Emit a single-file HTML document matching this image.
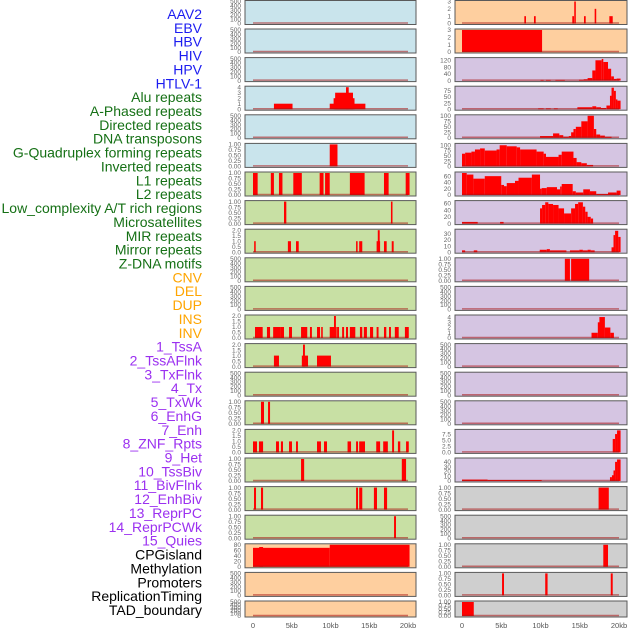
<!DOCTYPE html>
<html><head><meta charset="utf-8"><style>
html,body{margin:0;padding:0;background:#fff;}
svg{display:block;font-family:"Liberation Sans",sans-serif;}
</style></head><body>
<svg id="chart" width="630" height="630" viewBox="0 0 630 630"></svg>
<script>
// ---------- labels ----------
const trackLabels = ["AAV2","EBV","HBV","HIV","HPV","HTLV-1","Alu repeats","A-Phased repeats","Directed repeats","DNA transposons","G-Quadruplex forming repeats","Inverted repeats","L1 repeats","L2 repeats","Low_complexity A/T rich regions","Microsatellites","MIR repeats","Mirror repeats","Z-DNA motifs","CNV","DEL","DUP","INS","INV","1_TssA","2_TssAFlnk","3_TxFlnk","4_Tx","5_TxWk","6_EnhG","7_Enh","8_ZNF_Rpts","9_Het","10_TssBiv","11_BivFlnk","12_EnhBiv","13_ReprPC","14_ReprPCWk","15_Quies","CPGisland","Methylation","Promoters","ReplicationTiming","TAD_boundary"];
const labelGroups = ["v","v","v","v","v","v","r","r","r","r","r","r","r","r","r","r","r","r","r","s","s","s","s","s","c","c","c","c","c","c","c","c","c","c","c","c","c","c","c","o","o","o","o","o"];
const xTickValues = [0,5,10,15,20];
const xTickLabels = ["0","5kb","10kb","15kb","20kb"];
// ---------- tick sets ----------
const ticks500 = ["0","100","200","300","400","500"];
const ticks1 = ["0.00","0.25","0.50","0.75","1.00"];
const ticks2 = ["0.0","0.5","1.0","1.5","2.0"];
const ticks4 = ["0","1","2","3","4"];
const ticks3 = ["0","1","2","3"];
const ticks80 = ["0","20","40","60","80"];
const ticks120 = ["0","40","80","120"];
const ticks75 = ["0","25","50","75"];
const ticks100 = ["0","25","50","75","100"];
const ticks60 = ["0","20","40","60"];
const ticks30 = ["0","10","20","30"];
const ticks7 = ["0.0","2.5","5.0","7.5"];
const ticks40 = ["0","10","20","30","40"];
// ---------- series data: [startKb, endKb, value] ----------
const empty = [];
const hivL = [[2.7,5.1,1],[9.9,14.5,1],[10.4,13.1,2],[10.6,12.9,3],[12.0,12.35,4]];
const htlvL = [[9.9,10.9,1]];
const aluL = [[0,0.6,1],[2.3,2.7,1],[3.35,3.8,1],[5.2,6.3,1],[8.6,9.1,1],[9.3,9.9,1],[12.5,14.4,1],[16.9,17.5,1],[19.7,20.2,1]];
const aphL = [[4.0,4.3,1],[17.8,18.0,1]];
const dirL = [[0.15,0.35,1],[4.5,4.9,1],[5.55,5.9,1],[13.3,13.5,1],[13.7,14.1,1],[15.95,16.4,1],[16.1,16.35,2],[16.9,17.25,1],[17.9,18.15,1]];
const invL = [[0.26,1.25,1],[1.8,2.2,1],[2.6,3.6,1],[3.6,4.0,1],[4.65,5.03,1],[6.2,7.0,1],[7.35,7.6,1],[8.26,8.65,1],[8.8,9.0,1],[9.9,10.8,1],[10.45,10.7,2],[10.85,11.1,1],[11.5,11.75,1],[12.0,12.26,1],[12.5,13.2,1],[13.8,14.1,1],[14.3,14.7,1],[15.1,15.5,1],[15.95,16.2,1],[16.9,17.2,1],[17.55,17.8,1],[18.3,18.8,1],[19.6,20.1,1]];
const l1L = [[2.7,3.35,1],[6.3,7.1,1],[6.45,6.7,2],[8.26,10.06,1]];
const lowL = [[1.03,1.42,1],[1.94,2.2,1]];
const microL = [[0,0.52,1],[0.77,1.3,1],[2.97,3.35,1],[3.6,3.87,1],[4.65,5.03,1],[5.55,5.8,1],[8.26,8.77,1],[9.16,9.55,1],[12.2,12.65,1],[13.3,13.55,1],[13.7,14.45,1],[15.9,16.4,1],[16.8,17.4,1],[17.95,18.2,2],[18.7,19.0,1],[19.75,20.1,1]];
const mirL = [[6.2,6.6,1],[19.2,19.75,1]];
const mirrorL = [[0.13,0.39,1],[1.03,1.3,1],[13.3,13.55,1],[13.7,14.1,1],[15.6,16.0,1],[16.9,17.3,1]];
const zdnaL = [[18.2,18.45,1]];
const cnvL = [[0,9.9,69],[0.8,1.3,72],[9.9,20.2,80]];
const insR = [[7.94,8.15,1],[9.17,9.39,1],[14.05,14.27,1],[14.3,14.5,3],[15.54,15.76,1],[16.9,17.1,2],[18.77,19.2,1]];
const invR = [[0,10.2,3]];
const tssaR = [[10.0,10.4,4],[10.7,11.3,4],[11.9,13.1,4],[14.9,15.5,5],[15.5,16.0,8],[16.0,16.6,15],[16.6,17.0,60],[17.0,17.8,120],[17.8,18.0,128],[18.0,18.6,110],[18.6,19.0,70],[19.0,19.35,25],[19.35,19.7,10],[19.7,20.2,12]];
const tssaflR = [[9.7,10.4,3],[10.7,11.3,3],[11.7,12.2,3],[14.7,16.6,8],[16.6,17.1,12],[17.1,17.7,8],[17.7,18.35,5],[18.4,18.85,15],[18.85,19.05,55],[19.05,19.35,88],[19.35,19.6,75],[19.6,19.8,40],[19.8,20.2,35]];
const txflR = [[9.94,11.6,8],[11.6,12.4,20],[12.4,12.9,12],[12.9,13.6,5],[13.6,13.9,8],[13.9,14.2,25],[14.2,14.5,40],[14.5,15.2,50],[15.2,16.0,75],[16.0,16.8,100],[16.8,17.1,40],[17.1,17.6,15],[17.6,18.2,10],[18.2,19.05,5]];
const txR = [[0,0.4,60],[0.4,1.2,65],[1.2,1.65,70],[1.65,2.3,80],[2.3,2.9,85],[2.9,4.4,75],[4.4,4.8,80],[4.8,5.7,100],[5.7,6.97,95],[6.97,7.4,90],[7.4,9.5,80],[9.5,10.4,70],[10.4,10.7,60],[10.7,12.3,45],[12.3,12.7,55],[12.7,14.2,70],[14.2,14.6,40],[14.6,15.2,20],[15.2,15.9,15],[15.9,16.7,7]];
const txwkR = [[0,0.6,70],[0.6,1.45,65],[1.45,2.9,52],[2.9,5.0,60],[5.0,5.35,32],[5.35,5.7,28],[5.7,6.75,38],[6.75,7.2,45],[7.2,8.9,55],[8.9,9.94,65],[9.94,10.15,20],[10.15,10.8,22],[10.8,12.1,25],[12.1,12.5,18],[12.5,12.7,27],[12.7,14.1,35],[14.1,14.5,12],[14.5,15.45,8],[15.45,16.3,18],[16.3,17.1,12],[17.1,18.6,3],[18.6,19.7,8],[19.7,20.2,14]];
const enhgR = [[0,2.0,5],[4.85,5.3,5],[9.94,10.2,45],[10.2,10.6,55],[10.6,11.0,63],[11.0,11.6,58],[11.6,12.3,55],[12.3,13.0,45],[13.0,13.9,30],[13.9,14.4,45],[14.4,14.8,58],[14.8,15.4,63],[15.4,15.7,50],[15.7,16.0,35],[16.0,16.4,20],[16.4,16.7,15]];
const enhR = [[0,0.4,3],[1.5,1.95,3],[9.9,10.8,4],[10.8,11.2,5],[11.2,13.3,3],[13.75,14.95,3],[14.95,15.4,4],[15.4,16.0,3],[16.0,16.4,4],[16.4,16.9,3],[19.05,19.3,8],[19.3,19.5,28],[19.5,19.9,35],[19.9,20.2,25]];
const znfR = [[13.1,13.75,1],[13.9,16.2,1]];
const tssbivR = [[16.5,17.3,1],[17.3,17.55,3],[17.5,18.2,4],[18.2,18.9,2],[18.9,19.35,1]];
const reprpcR = [[19.2,19.5,5.5],[19.5,19.75,7.5],[19.75,20.2,9]];
const reprpcwkR = [[0,3.26,3],[3.26,10.15,2],[18.85,19.1,8],[19.1,19.3,12],[19.3,19.5,22],[19.5,19.75,40],[19.75,20.2,45]];
const cpgR = [[17.4,18.7,1]];
const promR = [[18.0,18.6,1]];
const repR = [[5.1,5.35,1],[10.6,10.9,1],[18.95,19.2,1]];
const tadR = [[0,1.5,1]];

const leftPanels = [
 [empty,500,ticks500],[empty,500,ticks500],[empty,500,ticks500],[hivL,4,ticks4],[empty,500,ticks500],[htlvL,1,ticks1],
 [aluL,1,ticks1],[aphL,1,ticks1],[dirL,2,ticks2],[empty,500,ticks500],[empty,500,ticks500],[invL,2,ticks2],[l1L,2,ticks2],
 [empty,500,ticks500],[lowL,1,ticks1],[microL,2,ticks2],[mirL,1,ticks1],[mirrorL,1,ticks1],[zdnaL,1,ticks1],
 [cnvL,80,ticks80],[empty,500,ticks500],[empty,500,ticks500]];
const rightPanels = [
 [insR,3,ticks3],[invR,3,ticks3],[tssaR,130,ticks120],[tssaflR,90,ticks75],[txflR,100,ticks100],[txR,104,ticks100],[txwkR,70,ticks60],
 [enhgR,65,ticks60],[enhR,36,ticks30],[znfR,1,ticks1],[empty,500,ticks500],[tssbivR,4.2,ticks4],[empty,500,ticks500],[empty,500,ticks500],
 [empty,500,ticks500],[reprpcR,9,ticks7],[reprpcwkR,46,ticks40],[cpgR,1,ticks1],[empty,500,ticks500],[promR,1,ticks1],[repR,1,ticks1],[tadR,1,ticks1]];
const leftBg = ["b","b","b","b","b","b","g","g","g","g","g","g","g","g","g","g","g","g","g","o","o","o"];
const rightBg = ["o","o","p","p","p","p","p","p","p","p","p","p","p","p","p","p","p","y","y","y","y","y"];

// ---------- rendering ----------
const NS = "http://www.w3.org/2000/svg";
const svg = document.getElementById("chart");
const bgColors = {b:"#c9e4ec",g:"#c8e0a4",o:"#fecf9f",p:"#d5c5e2",y:"#cfcfcf"};
const labelColors = {v:"#1c1cf0",r:"#157015",s:"#ffa500",c:"#9b30f0",o:"#000000"};
function mk(tag, attrs, parent){const e=document.createElementNS(NS,tag);for(const k in attrs)e.setAttribute(k,attrs[k]);(parent||svg).appendChild(e);return e;}

trackLabels.forEach((t,i)=>{
  const e = mk("text",{x:202,y:(19+i*13.86).toFixed(1),"text-anchor":"end","font-size":"14",fill:labelColors[labelGroups[i]]});
  e.textContent = t;
  
  
});

function rowTop(r){return r===0?0.5:29+(r-1)*28.6;}
function rowH(r){return r===21?16:24;}

function drawColumn(panels, bgs, boxX, boxW, x0px, x20px, tickRight, side){
  const xs = kb => x0px + kb/20*(x20px-x0px);
  panels.forEach((p,r)=>{
    const [data,ymax,tk] = p;
    const top=rowTop(r), h=rowH(r), bot=top+h;
    const ys = v => bot-1 - v/ymax*(h-2);
    const g = mk("g",{});
    
    
    mk("rect",{x:boxX,y:top,width:boxW,height:h,fill:bgColors[bgs[r]]},g);
    data.forEach(d=>{
      const b = mk("rect",{x:xs(d[0]).toFixed(2),y:ys(d[2]).toFixed(2),width:Math.max(1,xs(d[1])-xs(d[0])).toFixed(2),height:(ys(0)-ys(d[2])).toFixed(2),fill:"#ff0000"},g);
      
      
    });
    mk("line",{x1:xs(0),x2:xs(20),y1:bot-1.5,y2:bot-1.5,stroke:"rgba(170,20,20,0.55)","stroke-width":1.5},g);
    mk("rect",{x:boxX,y:top,width:boxW,height:h,fill:"none",stroke:"#5a5a5a","stroke-width":1},g);
    tk.forEach(s=>{
      const v=parseFloat(s);
      const t=mk("text",{x:tickRight,y:(ys(v)+2.2).toFixed(2),"text-anchor":"end","font-size":"6.5",fill:"#666"},g);
      t.textContent=s;
      
      
    });
  });
  xTickValues.forEach((v,i)=>{
    const t=mk("text",{x:xs(v),y:628,"text-anchor":"middle","font-size":"7.5",fill:"#555"});
    t.textContent=xTickLabels[i];
    
    
  });
}
drawColumn(leftPanels,leftBg,245,171,253,408,241,"left");
drawColumn(rightPanels,rightBg,455,172,462,619,451,"right");
</script>
</body></html>
